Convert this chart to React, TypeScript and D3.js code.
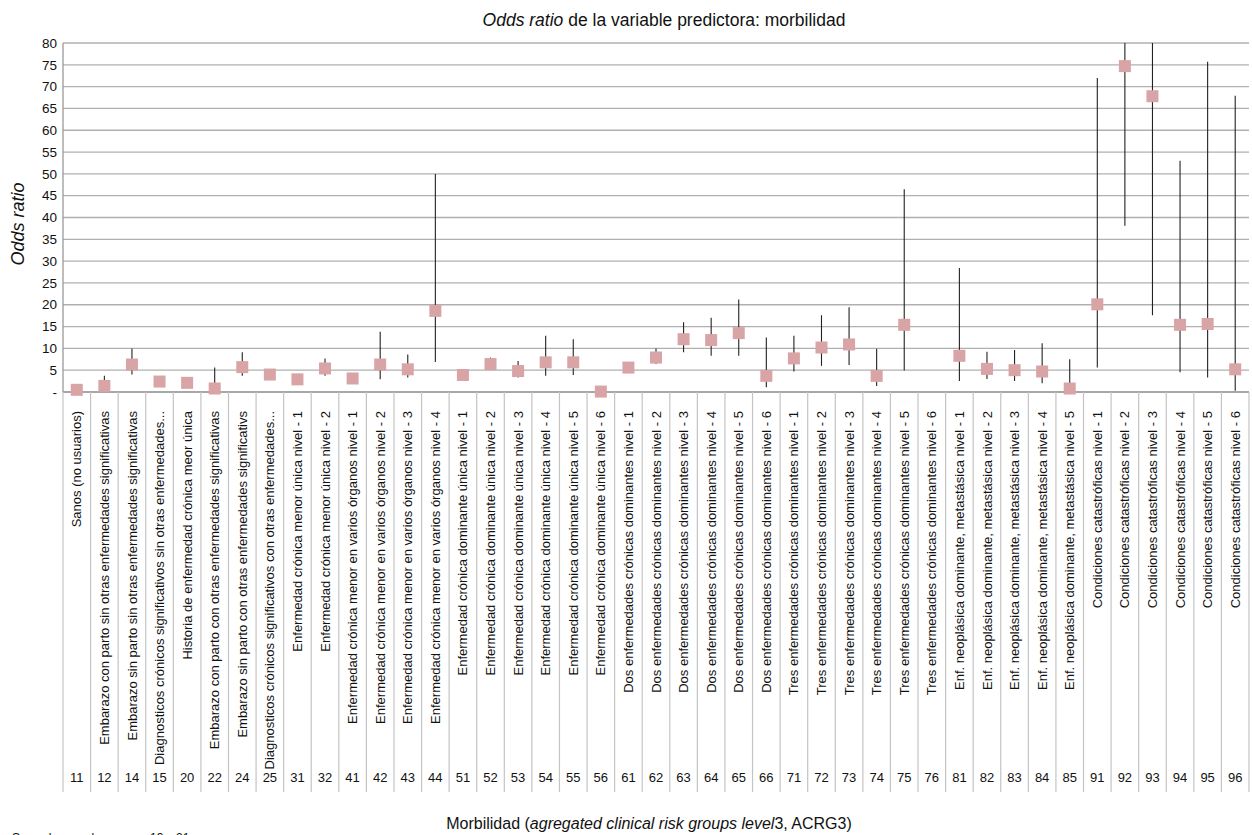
import React from "react";
import * as d3 from "d3";

const codes = ["11","12","14","15","20","22","24","25","31","32","41","42","43","44","51","52","53","54","55","56","61","62","63","64","65","66","71","72","73","74","75","76","81","82","83","84","85","91","92","93","94","95","96"];

const labels = [
  "Sanos (no usuarios)",
  "Embarazo con parto sin otras enfermedades significativas",
  "Embarazo sin parto sin otras enfermedades significativas",
  "Diagnosticos crónicos significativos sin otras enfermedades...",
  "Historia de enfermedad crónica meor única",
  "Embarazo con parto con otras enfermedades significativas",
  "Embarazo sin parto con otras enfermedades significativs",
  "Diagnosticos crónicos significativos con otras enfermedades...",
  "Enfermedad crónica menor única nivel - 1",
  "Enfermedad crónica menor única nivel - 2",
  "Enfermedad crónica menor en varios órganos nivel - 1",
  "Enfermedad crónica menor en varios órganos nivel - 2",
  "Enfermedad crónica menor en varios órganos nivel - 3",
  "Enfermedad crónica menor en varios órganos nivel - 4",
  "Enfermedad crónica dominante única nivel - 1",
  "Enfermedad crónica dominante única nivel - 2",
  "Enfermedad crónica dominante única nivel - 3",
  "Enfermedad crónica dominante única nivel - 4",
  "Enfermedad crónica dominante única nivel - 5",
  "Enfermedad crónica dominante única nivel - 6",
  "Dos enfermedades crónicas dominantes nivel - 1",
  "Dos enfermedades crónicas dominantes nivel - 2",
  "Dos enfermedades crónicas dominantes nivel - 3",
  "Dos enfermedades crónicas dominantes nivel - 4",
  "Dos enfermedades crónicas dominantes nivel - 5",
  "Dos enfermedades crónicas dominantes nivel - 6",
  "Tres enfermedades crónicas dominantes nivel - 1",
  "Tres enfermedades crónicas dominantes nivel - 2",
  "Tres enfermedades crónicas dominantes nivel - 3",
  "Tres enfermedades crónicas dominantes nivel - 4",
  "Tres enfermedades crónicas dominantes nivel - 5",
  "Tres enfermedades crónicas dominantes nivel - 6",
  "Enf. neoplásica dominante, metastásica nivel - 1",
  "Enf. neoplásica dominante, metastásica nivel - 2",
  "Enf. neoplásica dominante, metastásica nivel - 3",
  "Enf. neoplásica dominante, metastásica nivel - 4",
  "Enf. neoplásica dominante, metastásica nivel - 5",
  "Condiciones catastróficas nivel - 1",
  "Condiciones catastróficas nivel - 2",
  "Condiciones catastróficas nivel - 3",
  "Condiciones catastróficas nivel - 4",
  "Condiciones catastróficas nivel - 5",
  "Condiciones catastróficas nivel - 6",
];

const oddsRatio: (number | null)[] = [0.5,1.4,6.3,2.4,2.1,0.8,5.7,4.0,2.9,5.4,3.1,6.3,5.2,18.6,3.9,6.4,4.8,6.8,6.8,0.1,5.6,7.9,12.1,11.9,13.5,3.7,7.7,10.2,10.9,3.7,15.4,null,8.3,5.3,5.0,4.7,0.8,20.1,74.7,67.8,15.4,15.6,5.2];
const ciLow: (number | null)[] = [null,0.6,4.0,null,null,0.0,3.7,null,null,3.7,null,2.9,3.3,6.9,null,5.2,3.3,3.7,3.9,null,null,6.4,9.1,8.3,8.3,1.1,4.7,6.0,6.2,1.4,4.9,null,2.5,3.0,2.5,2.0,0.0,5.6,38.1,17.6,4.5,3.3,0.3];
const ciHigh: (number | null)[] = [null,3.7,10.0,null,null,5.6,9.1,null,null,7.7,null,13.8,8.6,50.0,null,7.9,7.1,12.9,12.1,null,null,10.0,16.0,17.0,21.2,12.5,12.9,17.6,19.4,9.9,46.5,null,28.4,9.2,9.6,11.2,7.5,72.0,95.0,95.0,53.0,75.7,67.9];

const yTicks = [0,5,10,15,20,25,30,35,40,45,50,55,60,65,70,75,80];

const W = 1252, H = 835;
const M = { left: 63, right: 1249, top: 43, bottom: 392 };
const TABLE_BOTTOM = 792;
const FONT = "'Liberation Sans', Arial, Helvetica, sans-serif";

export default function App() {
  const x = d3.scaleBand<string>().domain(codes).range([M.left, M.right]).padding(0);
  const y = d3.scaleLinear().domain([0, 80]).range([M.bottom, M.top]);
  const bw = x.bandwidth();
  const clip = (v: number) => Math.max(0, Math.min(80, v));
  const sq = 12;

  return (
    <div style={{ position: "absolute", left: 0, top: 0 }}>
      <svg width={W} height={H} style={{ display: "block", background: "#fff" }} fontFamily={FONT}>
        {/* title */}
        <text x={664} y={26} textAnchor="middle" fontSize={17.5} fill="#111">
          <tspan fontStyle="italic">Odds ratio</tspan>
          <tspan> de la variable predictora: morbilidad</tspan>
        </text>

        {/* gridlines */}
        {yTicks.map((t) => (
          <line key={"g" + t} x1={M.left} x2={M.right} y1={y(t)} y2={y(t)} stroke={t === 0 ? "#8a8a8a" : "#b0b0b0"} strokeWidth={1.3} />
        ))}
        {/* y axis line */}
        <line x1={M.left} x2={M.left} y1={M.top} y2={M.bottom} stroke="#9a9a9a" strokeWidth={1.3} />

        {/* y tick labels */}
        {yTicks.map((t) => (
          <text key={"t" + t} x={57} y={y(t)} dy="0.35em" textAnchor="end" fontSize={13.5} fill="#111">
            {t === 0 ? "-" : t}
          </text>
        ))}

        {/* y title */}
        <text transform={`translate(24,${224}) rotate(-90)`} textAnchor="middle" fontSize={18} fontStyle="italic" fill="#111">
          Odds ratio
        </text>

        {/* table separators */}
        {d3.range(codes.length + 1).map((i) => (
          <line key={"s" + i} x1={M.left + i * bw} x2={M.left + i * bw} y1={M.bottom} y2={TABLE_BOTTOM} stroke="#c4c4c4" strokeWidth={1.2} />
        ))}

        {/* category labels */}
        {codes.map((c, i) => {
          const cx = (x(c) as number) + bw / 2;
          return (
            <g key={"l" + c}>
              <text transform={`translate(${cx},411) rotate(-90)`} dy="0.35em" textAnchor="end" fontSize={13} fill="#111">
                {labels[i]}
              </text>
              <text x={cx} y={777} dy="0.35em" textAnchor="middle" fontSize={13} fill="#111">
                {c}
              </text>
            </g>
          );
        })}

        {/* error bars */}
        {codes.map((c, i) => {
          const lo = ciLow[i], hi = ciHigh[i];
          if (lo === null || hi === null) return null;
          const cx = (x(c) as number) + bw / 2;
          return <line key={"e" + c} x1={cx} x2={cx} y1={y(clip(lo))} y2={y(clip(hi))} stroke="#222" strokeWidth={1.1} />;
        })}

        {/* markers */}
        {codes.map((c, i) => {
          const v = oddsRatio[i];
          if (v === null) return null;
          const cx = (x(c) as number) + bw / 2;
          return <rect key={"m" + c} x={cx - sq / 2} y={y(v) - sq / 2} width={sq} height={sq} fill="#d8a4a6" />;
        })}

        {/* x title */}
        <text x={649} y={829} textAnchor="middle" fontSize={16} fill="#111">
          <tspan>Morbilidad (</tspan>
          <tspan fontStyle="italic">agregated clinical risk groups level</tspan>
          <tspan>3, ACRG3)</tspan>
        </text>

        {/* footnote (cut off at the bottom, as in the reference) */}
        <text x={12} y={842} fontSize={12} fill="#111">Se excluyeron los grupos 13 y 21</text>
      </svg>
    </div>
  );
}
